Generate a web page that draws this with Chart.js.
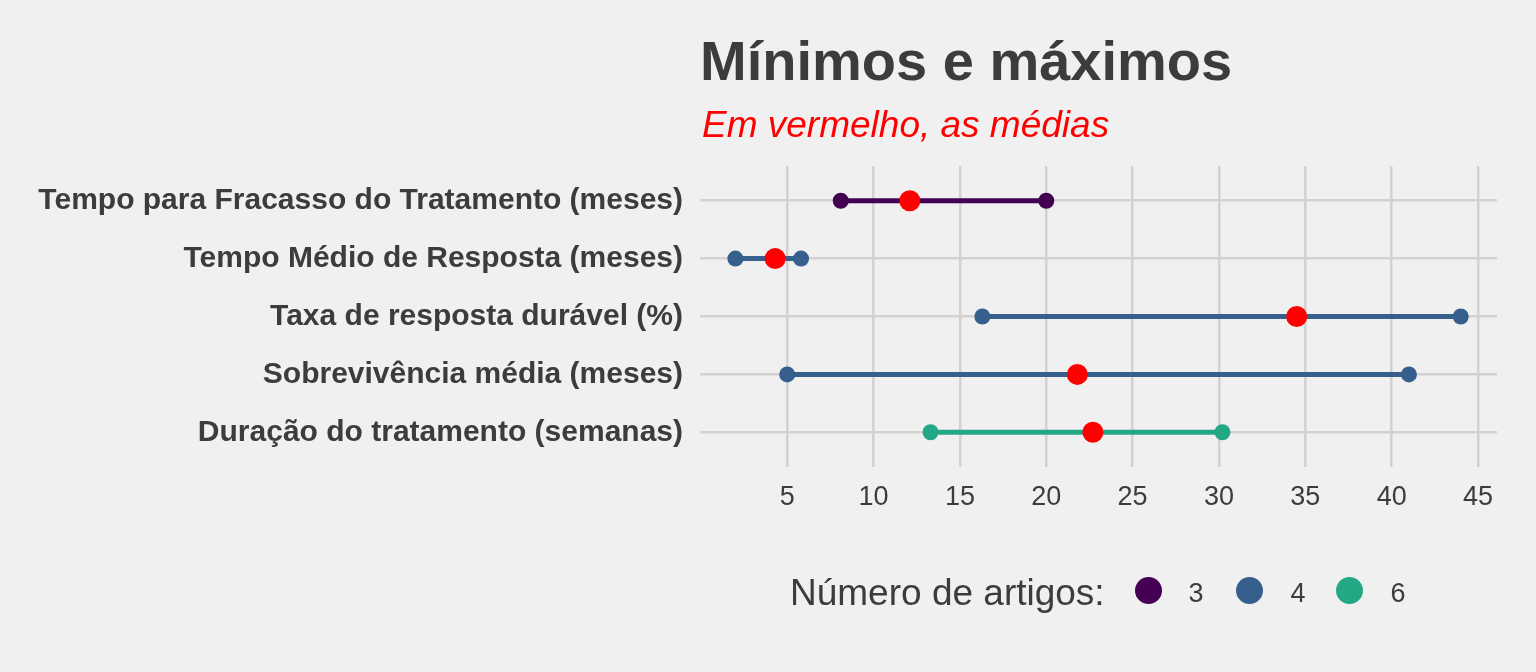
<!DOCTYPE html>
<html>
<head>
<meta charset="utf-8">
<script src="https://cdn.jsdelivr.net/npm/chart.js@4.4.0/dist/chart.umd.min.js"></script>
<style>
  html, body { margin: 0; padding: 0; background: #f0f0f0; }
  #wrap { position: relative; width: 1536px; height: 672px; background: #f0f0f0; overflow: hidden; }
  canvas { position: absolute; left: 0; top: 0; }
  .txt { position: absolute; font-family: "Liberation Sans", Arial, sans-serif; line-height: 1; white-space: nowrap; }
  #title { left: 700px; top: 32.6px; font-size: 56px; font-weight: bold; color: #3c3c3c; }
  #subtitle { left: 702px; top: 106px; font-size: 37px; font-style: italic; color: #ff0000; }
  #legTitle { left: 790px; top: 573.7px; font-size: 37px; color: #3c3c3c; }
  .dot { position: absolute; width: 27px; height: 27px; border-radius: 50%; }
  .legLab { font-size: 27px; color: #3c3c3c; transform: translateX(-50%); }
</style>
</head>
<body>
<div id="wrap">
  <canvas id="c" width="1536" height="672"></canvas>
  <div class="txt" id="title">Mínimos e máximos</div>
  <div class="txt" id="subtitle">Em vermelho, as médias</div>
  <div class="txt" id="legTitle">Número de artigos:</div>
</div>
<script>
// ---- data ----
const categories = [
  "Tempo para Fracasso do Tratamento (meses)",
  "Tempo Médio de Resposta (meses)",
  "Taxa de resposta durável (%)",
  "Sobrevivência média (meses)",
  "Duração do tratamento (semanas)"
];
const minimos = [8.1, 2.0, 16.3, 5.0, 13.3];
const medias  = [12.1, 4.3, 34.5, 21.8, 22.7];
const maximos = [20.0, 5.8, 44.0, 41.0, 30.2];
const numeroArtigos = [3, 4, 4, 4, 6];
const xTicks = [5, 10, 15, 20, 25, 30, 35, 40, 45];
const legendValues = [3, 4, 6];
const legendColors = ["#440154", "#365f8d", "#22a884"];

// ---- helpers ----
const colorFor = n => legendColors[legendValues.indexOf(n)];
const FONT = "'Liberation Sans', Arial, sans-serif";
const INK = "#3c3c3c";
const GRID = "#d2d2d2";

const datasets = [{
  type: 'scatter',
  label: 'média',
  order: 0,
  data: medias.map((m, i) => ({ x: m, y: i + 1 })),
  pointRadius: 10.5,
  pointHoverRadius: 10.5,
  pointBackgroundColor: '#ff0000',
  pointBorderWidth: 0,
  showLine: false
}];
categories.forEach((cat, i) => {
  const col = colorFor(numeroArtigos[i]);
  datasets.push({
    type: 'line',
    label: cat,
    order: 1,
    data: [{ x: minimos[i], y: i + 1 }, { x: maximos[i], y: i + 1 }],
    borderColor: col,
    borderWidth: 5,
    pointRadius: 8,
    pointHoverRadius: 8,
    pointBackgroundColor: col,
    pointBorderWidth: 0,
    fill: false,
    tension: 0
  });
});

new Chart(document.getElementById('c'), {
  data: { datasets },
  options: {
    responsive: false,
    animation: false,
    events: [],
    layout: { padding: { left: 0, right: 39, top: 166, bottom: 155 } },
    plugins: { legend: { display: false }, tooltip: { enabled: false }, title: { display: false } },
    scales: {
      x: {
        type: 'linear',
        position: 'bottom',
        min: -0.05,
        max: 46.1,
        afterBuildTicks: s => { s.ticks = xTicks.map(v => ({ value: v })); },
        afterFit: s => { s.height = 50; },
        grid: { color: GRID, lineWidth: 2.5, drawTicks: false },
        border: { display: false },
        ticks: { color: INK, font: { family: FONT, size: 27 }, padding: 14, maxRotation: 0, autoSkip: false }
      },
      y: {
        type: 'linear',
        position: 'left',
        reverse: true,
        min: 0.4,
        max: 5.6,
        afterBuildTicks: s => { s.ticks = categories.map((c, i) => ({ value: i + 1 })); },
        afterFit: s => { s.width = 700; },
        grid: { color: GRID, lineWidth: 2.5, drawTicks: false },
        border: { display: false },
        ticks: {
          color: INK,
          font: { family: FONT, size: 30, weight: 'bold' },
          padding: 17,
          autoSkip: false,
          callback: v => categories[v - 1]
        }
      }
    }
  }
});

// ---- legend (built from arrays) ----
const wrap = document.getElementById('wrap');
const dotX = [1148, 1249, 1349];
const labX = [1196, 1298, 1398];
legendValues.forEach((v, i) => {
  const d = document.createElement('div');
  d.className = 'dot';
  d.style.background = legendColors[i];
  d.style.left = (dotX[i] - 13.5) + 'px';
  d.style.top = (590 - 13.5) + 'px';
  wrap.appendChild(d);
  const t = document.createElement('div');
  t.className = 'txt legLab';
  t.textContent = String(v);
  t.style.left = labX[i] + 'px';
  t.style.top = '579.8px';
  wrap.appendChild(t);
});
</script>
</body>
</html>
